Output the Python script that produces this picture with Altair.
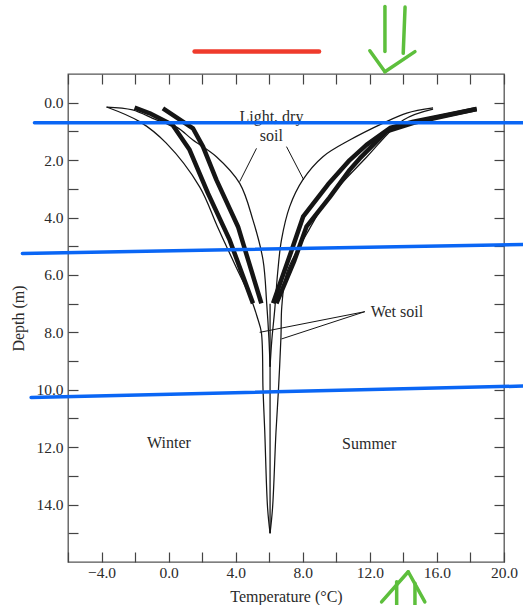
import altair as alt
import pandas as pd

# ---------------- axis ticks ----------------
x_ticks = list(range(-6, 21, 2))
y_ticks = list(range(0, 16, 1))

# ---------------- thin envelope curves (temperature °C, depth m) ----------------
ld_winter_T = [-3.7, -2.15, -0.73, 0.48, 1.45, 2.85, 4.24, 5.03, 5.63, 5.85, 5.98, 6.05]
ld_winter_D = [0.15, 0.25, 0.60, 0.85, 1.30, 1.88, 2.81, 4.09, 5.48, 7.00, 8.20, 9.20]

ws_winter_T = [-3.7, -1.73, -0.14, 1.85, 2.9, 4.0, 4.94, 5.3, 5.53, 5.63, 5.73, 5.9, 6.05]
ws_winter_D = [0.15, 0.66, 1.41, 2.93, 4.3, 5.7, 6.87, 7.5, 8.0, 10.0, 11.4, 14.1, 15.0]

ld_summer_T = [15.77, 14.2, 12.8, 10.8, 9.2, 8.0, 7.22, 6.73, 6.5, 6.33, 6.15, 6.05]
ld_summer_D = [0.18, 0.36, 0.71, 1.30, 1.88, 2.69, 3.62, 4.78, 5.94, 7.2, 8.3, 9.2]

ws_summer_T = [15.77, 14.0, 11.8, 9.45, 8.26, 7.04, 6.75, 6.7, 6.55, 6.4, 6.2, 6.05]
ws_summer_D = [0.22, 0.60, 1.90, 3.40, 4.54, 5.93, 7.1, 8.15, 10.0, 11.5, 14.1, 15.0]

center_T = [6.05, 6.05]
center_D = [7.0, 15.0]

# ---------------- thick measured profiles ----------------
winter_a_T = [-2.03, -1.13, 0.24, 1.25, 2.35, 3.64, 5.03]
winter_a_D = [0.17, 0.37, 0.78, 1.64, 3.16, 4.78, 6.99]

winter_b_T = [-0.34, 1.45, 2.05, 2.85, 4.14, 5.53]
winter_b_D = [0.195, 0.89, 1.53, 2.69, 4.32, 6.99]

summer_c_T = [18.37, 14.6, 13.2, 11.8, 10.8, 9.5, 8.02, 7.3, 6.23]
summer_c_D = [0.22, 0.66, 0.88, 1.47, 2.0, 2.85, 3.97, 5.2, 6.99]

summer_d_T = [18.37, 14.6, 13.0, 11.4, 10.8, 9.6, 8.22, 7.5, 6.43]
summer_d_D = [0.22, 0.70, 1.00, 1.94, 2.34, 3.3, 4.32, 5.5, 6.99]

# ---------------- labels ----------------
center_text = ["Light, dry", "soil", "Winter", "Summer"]
center_text_T = [6.13, 6.13, 0.02, 11.96]
center_text_D = [0.49, 1.16, 11.87, 11.89]

left_text = ["Wet soil"]
left_text_T = [12.05]
left_text_D = [7.28]

# pointer leader lines
ptr_x1 = [5.24, 7.03, 11.7, 11.7]
ptr_y1 = [1.59, 1.53, 7.28, 7.28]
ptr_x2 = [4.24, 8.06, 5.43, 6.73]
ptr_y2 = [2.75, 2.69, 8.0, 8.23]

# hand-drawn markup (in data units)
blue_x1 = [-8.0, -8.72, -8.2]
blue_y1 = [0.70, 5.25, 10.27]
blue_x2 = [21.13, 21.13, 21.13]
blue_y2 = [0.70, 4.94, 9.87]

red_x1 = [1.55]
red_y1 = [-1.78]
red_x2 = [8.97]
red_y2 = [-1.78]

green_x1 = [12.9, 14.1, 12.0, 12.9, 13.6, 14.69, 12.7, 14.29]
green_y1 = [-3.35, -3.33, -1.81, -1.08, 16.69, 16.74, 17.39, 16.34]
green_x2 = [12.9, 13.99, 12.9, 14.69, 13.6, 14.69, 14.29, 15.28]
green_y2 = [-1.78, -1.72, -1.08, -1.78, 17.5, 17.5, 16.34, 17.39]


def curves_df(curves):
    rows = []
    for name, ts, ds in curves:
        for i, (t, d) in enumerate(zip(ts, ds)):
            rows.append({"s": name, "i": i, "T": t, "d": d})
    return pd.DataFrame(rows)


thin_df = curves_df([
    ("ld_w", ld_winter_T, ld_winter_D),
    ("ws_w", ws_winter_T, ws_winter_D),
    ("ld_s", ld_summer_T, ld_summer_D),
    ("ws_s", ws_summer_T, ws_summer_D),
    ("c", center_T, center_D),
])
thick_df = curves_df([
    ("wa", winter_a_T, winter_a_D),
    ("wb", winter_b_T, winter_b_D),
    ("sc", summer_c_T, summer_c_D),
    ("sd", summer_d_T, summer_d_D),
])

ctext_df = pd.DataFrame({"t": center_text, "T": center_text_T, "d": center_text_D})
ltext_df = pd.DataFrame({"t": left_text, "T": left_text_T, "d": left_text_D})
ptr_df = pd.DataFrame({"x1": ptr_x1, "y1": ptr_y1, "x2": ptr_x2, "y2": ptr_y2})
blue_df = pd.DataFrame({"x1": blue_x1, "y1": blue_y1, "x2": blue_x2, "y2": blue_y2})
red_df = pd.DataFrame({"x1": red_x1, "y1": red_y1, "x2": red_x2, "y2": red_y2})
green_df = pd.DataFrame({"x1": green_x1, "y1": green_y1, "x2": green_x2, "y2": green_y2})

FONT = "Liberation Serif"
INK = "#151515"
TXT = "#2a2a2a"

xs = alt.Scale(domain=[-6, 20], nice=False, zero=False)
ys = alt.Scale(domain=[-1, 16], nice=False, zero=False, reverse=True)

tick_common = dict(tickSize=10, offset=-10, domain=False, grid=False,
                   tickColor="#444", tickWidth=1.2, labelOverlap=False, labelFlush=False)

thin = alt.Chart(thin_df).mark_line(color=INK, strokeWidth=1.25, interpolate="catmull-rom").encode(
    x=alt.X("T:Q", scale=xs, axis=alt.Axis(
        orient="bottom", values=x_ticks,
        labelExpr="datum.value % 4 == 0 ? format(datum.value, '.1f') : ''",
        labelPadding=3, title="Temperature (°C)", titlePadding=8, **tick_common)),
    y=alt.Y("d:Q", scale=ys, axis=alt.Axis(
        orient="left", values=y_ticks,
        labelExpr="datum.value % 2 == 0 && datum.value <= 14 ? format(datum.value, '.1f') : ''",
        labelPadding=5, title="Depth (m)", titlePadding=9, **tick_common)),
    detail="s:N",
    order="i:Q",
)

thick = alt.Chart(thick_df).mark_line(color=INK, strokeWidth=4.5, strokeJoin="round").encode(
    x=alt.X("T:Q", scale=xs, axis=alt.Axis(orient="top", values=x_ticks, labels=False, title=None, **tick_common)),
    y=alt.Y("d:Q", scale=ys, axis=alt.Axis(orient="right", values=y_ticks, labels=False, title=None, **tick_common)),
    detail="s:N",
    order="i:Q",
)


def seg_layer(df, color, width, cap="butt"):
    return alt.Chart(df).mark_rule(color=color, strokeWidth=width, strokeCap=cap).encode(
        x=alt.X("x1:Q", scale=xs, axis=None),
        y=alt.Y("y1:Q", scale=ys, axis=None),
        x2="x2:Q",
        y2="y2:Q",
    )


pointers = seg_layer(ptr_df, INK, 1.0)

ctext = alt.Chart(ctext_df).mark_text(font=FONT, fontSize=16, color=TXT, align="center", baseline="middle").encode(
    x=alt.X("T:Q", scale=xs, axis=None), y=alt.Y("d:Q", scale=ys, axis=None), text="t:N")
ltext = alt.Chart(ltext_df).mark_text(font=FONT, fontSize=16, color=TXT, align="left", baseline="middle").encode(
    x=alt.X("T:Q", scale=xs, axis=None), y=alt.Y("d:Q", scale=ys, axis=None), text="t:N")

blue = seg_layer(blue_df, "#0a66f5", 3.5, "round")
red = seg_layer(red_df, "#ef3b2c", 4.5, "round")
green = seg_layer(green_df, "#5dbf3c", 3.5, "round")

chart = alt.layer(thin, thick, pointers, ctext, ltext, blue, red, green).resolve_axis(
    x="independent", y="independent"
).properties(
    width=436, height=488,
    autosize=alt.AutoSizeParams(type="none"),
    padding={"left": 68, "top": 74, "right": 19, "bottom": 43},
).configure_view(
    stroke="#555", strokeWidth=1.3
).configure_axis(
    labelFont=FONT, labelFontSize=15.5, labelColor=TXT,
    titleFont=FONT, titleFontSize=16, titleColor=TXT, titleFontWeight="normal",
)

chart.save("out.html", embed_options={"renderer": "svg", "actions": False})
